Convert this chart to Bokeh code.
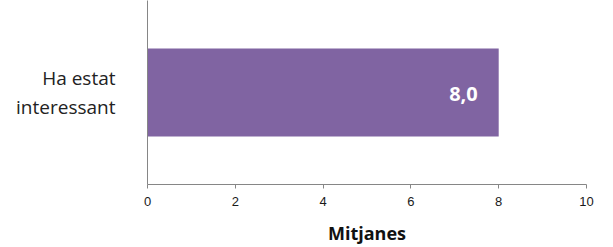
from bokeh.plotting import figure
from bokeh.models import Range1d, FixedTicker, ColumnDataSource
from bokeh.core.properties import value
from bokeh.embed import file_html
from bokeh.resources import INLINE

categories = ["Ha estat\ninteressant"]
values = [8.0]
x_ticks = [0, 2, 4, 6, 8, 10]
x_title = "Mitjanes"

labels = [f"{v:.1f}".replace(".", ",") for v in values]
ypos = [0.5 + i for i in range(len(categories))]

p = figure(width=613, height=247, output_backend="svg", toolbar_location=None,
           x_range=Range1d(0, 10), y_range=Range1d(0, len(categories)))
p.min_border_left = 147
p.min_border_right = 27
p.min_border_top = 0
p.min_border_bottom = 61
p.outline_line_color = None
p.xgrid.visible = False
p.ygrid.visible = False
p.background_fill_color = "white"
p.border_fill_color = "white"

src = ColumnDataSource(dict(y=ypos, right=values, label=labels))
p.hbar(y="y", right="right", left=0, height=0.478, source=src,
       fill_color="#8064A2", line_color=None)
p.text(x="right", y="y", text="label", source=src, x_offset=-21, y_offset=1.5,
       text_align="right", text_baseline="middle", text_color="white",
       text_font=value("Open Sans"), text_font_style="bold", text_font_size="20px")

ax = p.xaxis[0]
ax.ticker = FixedTicker(ticks=x_ticks)
ax.minor_tick_line_color = None
ax.major_tick_in = 0
ax.major_tick_out = 4
ax.axis_line_color = "#868686"
ax.major_tick_line_color = "#868686"
ax.major_label_text_font = "Liberation Sans"
ax.major_label_text_font_size = "13px"
ax.major_label_text_color = "#1a1a1a"
ax.major_label_standoff = 8
ax.axis_label = x_title
ax.axis_label_text_font = "Open Sans"
ax.axis_label_text_font_style = "bold"
ax.axis_label_text_font_size = "18px"
ax.axis_label_text_color = "#111111"
ax.axis_label_standoff = 12

ay = p.yaxis[0]
ay.ticker = FixedTicker(ticks=ypos)
ay.major_label_overrides = {y: c for y, c in zip(ypos, categories)}
ay.minor_tick_line_color = None
ay.major_tick_in = 0
ay.major_tick_out = 0
ay.axis_line_color = "#868686"
ay.major_label_text_font = "Open Sans"
ay.major_label_text_font_size = "19px"
ay.major_label_text_color = "#222222"
ay.major_label_text_line_height = 1.12
ay.major_label_standoff = 32

open("out.html", "w").write(file_html(p, INLINE))
